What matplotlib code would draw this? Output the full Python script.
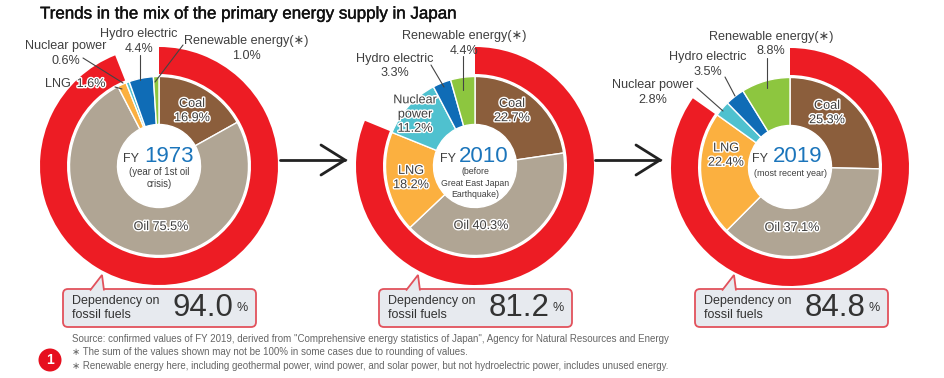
import matplotlib
matplotlib.use('Agg')
import matplotlib.pyplot as plt
import matplotlib.patheffects as pe
from matplotlib.patches import FancyBboxPatch, Circle, Polygon

plt.rcParams['font.family'] = ['Liberation Sans', 'DejaVu Sans']

# data
sources = ['Coal', 'Oil', 'LNG', 'Nuclear power', 'Hydro electric', 'Renewable energy']
mix_1973 = [16.9, 75.5, 1.6, 0.6, 4.4, 1.0]
mix_2010 = [22.7, 40.3, 18.2, 11.2, 3.3, 4.4]
mix_2019 = [25.3, 37.1, 22.4, 2.8, 3.5, 8.8]
fossil = [94.0, 81.2, 84.8]
years = ['1973', '2010', '2019']
colors = ['#8B5E3C', '#B0A594', '#FBB040', '#4FC1CF', '#0F6CB6', '#8DC63F']

RED = '#ED1C24'
GREY = '#3F3F3F'
REN = 'Renewable energy(\u2217)'

fig = plt.figure(figsize=(9.45, 3.78), dpi=100)
ax = fig.add_axes([0, 0, 1, 1])


def Y(py):
    # picture pixels run downwards
    return 378 - py


def label(x, y, s, size=9.1, color=GREY, halo=False, spacing=1.25, **kw):
    t = ax.text(x, Y(y), s, fontsize=size, color=color, ha=kw.pop('ha', 'center'),
                va=kw.pop('va', 'center'), linespacing=spacing, zorder=kw.pop('zorder', 7), **kw)
    if halo:
        t.set_path_effects([pe.withStroke(linewidth=2.0, foreground='white')])
    return t


def line(x0, y0, x1, y1, lw=0.8, color='#444444'):
    ax.plot([x0, x1], [Y(y0), Y(y1)], color=color, lw=lw, zorder=4, solid_capstyle='round')


def donut(cx, cy, values, dep, year, sub, subsize, fy_dx, yr_dx, sub_dy):
    ax.pie([dep, 100 - dep], colors=[RED, 'none'], center=(cx, Y(cy)), radius=119,
           startangle=90, counterclock=False, wedgeprops=dict(width=27, linewidth=0))
    ax.pie(values, colors=colors, center=(cx, Y(cy)), radius=89.5, startangle=90,
           counterclock=False, wedgeprops=dict(width=48, linewidth=1.0, edgecolor='white'))
    ax.add_patch(Circle((cx, Y(cy)), 41, fc='white', ec='none', zorder=3))
    label(cx + fy_dx, 159, 'FY', size=9)
    label(cx + yr_dx, 157, year, size=16, color='#1B75BB')
    label(cx, cy + sub_dy, sub, size=subsize, spacing=1.35)


def callout(x0, dep):
    x1 = x0 + 193
    y0, y1 = 289, 327
    ax.add_patch(FancyBboxPatch((x0, Y(y1)), x1 - x0, y1 - y0, boxstyle='round,pad=0,rounding_size=5',
                                fc='#E7EAEF', ec='#E2525C', lw=1.3, zorder=5))
    tail = [(x0 + 27, Y(y0 + 1.5)), (x0 + 39, Y(275)), (x0 + 41, Y(y0 + 1.5))]
    ax.add_patch(Polygon(tail, closed=False, fc='#E7EAEF', ec='#E2525C', lw=1.3, zorder=6))
    label(x0 + 9, 308, 'Dependency on\nfossil fuels', size=9, ha='left', color='#333333', spacing=1.15)
    label(x0 + 140, 308, f'{dep:.1f}', size=22.5, color='#333333')
    label(x0 + 179, 308, '%', size=9, color='#333333')


def arrow(x0, x1, y):
    line(x0, y, x1, y, lw=2, color='#222222')
    ax.plot([x1 - 24, x1, x1 - 24], [Y(y - 15), Y(y), Y(y + 15)], color='#222222', lw=2,
            solid_capstyle='round', solid_joinstyle='miter', zorder=4)


donut(159, 166, mix_1973, fossil[0], years[0], '(year of 1st oil\ncrisis)', 6.9, -28, 10, 12)
donut(475, 166, mix_2010, fossil[1], years[1], '(before\nGreat East Japan\nEarthquake)', 6.3, -27, 9, 17)
donut(790, 167, mix_2019, fossil[2], years[2], '(most recent year)', 6.5, -30, 8, 7)

# 1973 labels
label(192, 111, 'Coal\n16.9%', halo=True)
label(161, 227, 'Oil 75.5%', halo=True)
label(58, 84, 'LNG')
label(91, 84, '1.6%', halo=True)
label(66, 53.5, 'Nuclear power\n0.6%')
label(139, 41.5, 'Hydro electric\n4.4%')
label(246, 48.5, REN + '\n1.0%')
line(83, 58, 123, 83)
line(115, 87, 122, 89)
line(140, 55, 140, 80)
line(183, 45, 155, 82)

# 2010 labels
label(512, 111, 'Coal\n22.7%', halo=True)
label(481, 226, 'Oil 40.3%', halo=True)
label(411, 178, 'LNG\n18.2%', halo=True)
label(415, 114.5, 'Nuclear\npower\n11.2%', halo=True)
label(395, 66, 'Hydro electric\n3.3%')
label(464, 43.5, REN + '\n4.4%')
line(431, 65, 444, 87)
line(463, 56, 463, 90)

# 2019 labels
label(827, 113, 'Coal\n25.3%', halo=True)
label(792, 228, 'Oil 37.1%', halo=True)
label(726, 155.5, 'LNG\n22.4%', halo=True)
label(653, 92.5, 'Nuclear power\n2.8%')
label(708, 64.5, 'Hydro electric\n3.5%')
label(771, 37, REN)
label(771, 51, '8.8%')
line(697, 88, 723, 111)
line(725, 77, 735, 96)
line(767, 58, 767, 88)

arrow(280, 345, 160)
arrow(595, 660, 160)

callout(63, fossil[0])
callout(379, fossil[1])
callout(695, fossil[2])

title = label(40, 14, 'Trends in the mix of the primary energy supply in Japan', size=12.2, ha='left',
              color='#111111')
title.set_path_effects([pe.withStroke(linewidth=0.3, foreground='#111111')])

label(72, 339, 'Source: confirmed values of FY 2019, derived from "Comprehensive energy statistics of Japan", Agency for Natural Resources and Energy',
      size=7.07, ha='left', color='#666666')
label(72, 352, '\u2217 The sum of the values shown may not be 100% in some cases due to rounding of values.',
      size=7.07, ha='left', color='#666666')
label(72, 366, '\u2217 Renewable energy here, including geothermal power, wind power, and solar power, but not hydroelectric power, includes unused energy.',
      size=7.07, ha='left', color='#666666')

ax.add_patch(Circle((50, Y(360)), 11.5, fc='#E60F1E', ec='none'))
label(50, 360, '1', size=10, color='white', fontweight='bold')

ax.set_xlim(0, 945)
ax.set_ylim(0, 378)
ax.set_aspect('equal')
ax.axis('off')

fig.savefig('out.png', dpi=100)
